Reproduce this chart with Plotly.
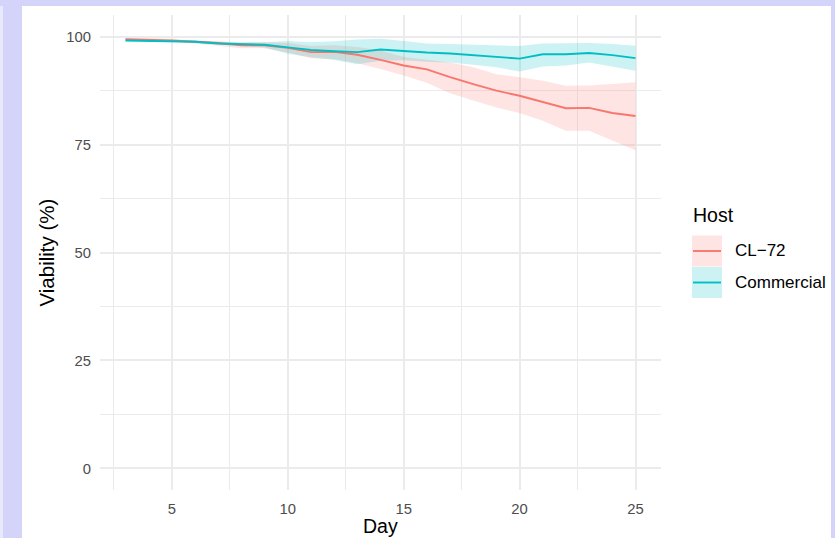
import plotly.graph_objects as go

# ---------------- data ----------------
days = list(range(3, 26))

cl72_mean = [99.4, 99.3, 99.1, 98.8, 98.5, 98.0, 98.0, 97.4, 96.4, 96.5, 95.8, 94.6,
             93.3, 92.4, 90.6, 89.0, 87.5, 86.3, 84.9, 83.4, 83.5, 82.3, 81.6]
cl72_lower = [99.2, 99.0, 98.8, 98.4, 97.9, 97.3, 97.3, 96.3, 95.0, 94.8, 93.8, 92.5,
              91.0, 89.3, 86.9, 85.2, 83.6, 82.3, 80.5, 78.2, 78.2, 75.9, 73.7]
cl72_upper = [99.6, 99.6, 99.4, 99.2, 99.0, 98.7, 98.7, 98.5, 97.8, 98.0, 97.6, 96.8,
              95.3, 94.6, 94.0, 92.9, 91.3, 90.6, 89.8, 88.6, 88.7, 89.0, 89.4]

com_mean = [99.1, 99.0, 99.0, 98.8, 98.4, 98.2, 98.1, 97.5, 96.9, 96.6, 96.4, 97.0,
            96.6, 96.3, 96.1, 95.7, 95.3, 94.9, 95.9, 95.9, 96.2, 95.7, 95.0]
com_lower = [98.9, 98.8, 98.8, 98.5, 98.1, 97.8, 97.5, 96.0, 95.2, 94.6, 93.6, 94.4,
             94.5, 94.2, 94.0, 93.5, 92.9, 91.9, 93.1, 93.3, 94.0, 93.1, 92.1]
com_upper = [99.3, 99.2, 99.2, 99.1, 98.8, 98.6, 98.7, 99.0, 98.7, 98.9, 99.3, 99.5,
             99.0, 98.4, 98.3, 98.1, 97.9, 97.8, 98.4, 98.4, 98.5, 98.3, 97.9]

series_names = ["CL\u221272", "Commercial"]
x_ticks = [5, 10, 15, 20, 25]
y_ticks = [0, 25, 50, 75, 100]

# ---------------- style ----------------
RED = "#F8766D"
TEAL = "#00BFC4"
RED_FILL = "rgba(248,118,109,0.2)"
TEAL_FILL = "rgba(0,191,196,0.2)"
LAV = "#D4D4FA"
FONT = "Liberation Sans, Arial, sans-serif"
GRID = "#EBEBEB"

W, H = 835, 538
L, R, T, B = 100, 661, 15, 490  # plot area in px


def px_x(px):
    return (px - L) / (R - L)


def px_y(py):
    return (B - py) / (B - T)


fig = go.Figure()

# ribbons
for lo, up, fc in [(cl72_lower, cl72_upper, RED_FILL), (com_lower, com_upper, TEAL_FILL)]:
    fig.add_trace(go.Scatter(
        x=days + days[::-1], y=up + lo[::-1], fill="toself", fillcolor=fc,
        line=dict(width=0), mode="lines", showlegend=False, hoverinfo="skip"))

# lines
for m, c, n in [(cl72_mean, RED, series_names[0]), (com_mean, TEAL, series_names[1])]:
    fig.add_trace(go.Scatter(x=days, y=m, mode="lines", name=n,
                             line=dict(color=c, width=1.9), showlegend=False))

shapes = [
    # white page area over lavender
    dict(type="rect", xref="paper", yref="paper", layer="below",
         x0=px_x(22), x1=px_x(831), y0=px_y(H), y1=px_y(6),
         fillcolor="white", line=dict(width=0)),
    dict(type="rect", xref="paper", yref="paper", layer="below",
         x0=px_x(0), x1=px_x(3), y0=px_y(H), y1=px_y(6),
         fillcolor="#E9E9FC", line=dict(width=0)),
]

annotations = [
    dict(text="Day", x=px_x(380.5), y=px_y(526), xref="paper", yref="paper",
         showarrow=False, xanchor="center", yanchor="middle",
         font=dict(family=FONT, size=19.5, color="black")),
    dict(text="Viability (%)", x=px_x(46), y=px_y(252.5), xref="paper", yref="paper",
         showarrow=False, xanchor="center", yanchor="middle", textangle=-90,
         font=dict(family=FONT, size=20.5, color="black")),
    dict(text="Host", x=px_x(691), y=px_y(215), xref="paper", yref="paper",
         showarrow=False, xanchor="left", yanchor="middle",
         font=dict(family=FONT, size=19.5, color="black")),
]

# manual legend
key_rows = [(235.5, 266.5, RED_FILL, RED, series_names[0]),
            (267, 298, TEAL_FILL, TEAL, series_names[1])]
for y0, y1, fc, lc, name in key_rows:
    shapes.append(dict(type="rect", xref="paper", yref="paper",
                       x0=px_x(692), x1=px_x(722), y0=px_y(y1), y1=px_y(y0),
                       fillcolor=fc, line=dict(width=0)))
    ym = (y0 + y1) / 2
    shapes.append(dict(type="line", xref="paper", yref="paper",
                       x0=px_x(693), x1=px_x(721), y0=px_y(ym), y1=px_y(ym),
                       line=dict(color=lc, width=1.9)))
    annotations.append(dict(text=name, x=px_x(733), y=px_y(ym), xref="paper", yref="paper",
                            showarrow=False, xanchor="left", yanchor="middle",
                            font=dict(family=FONT, size=17, color="black")))

fig.update_layout(
    width=W, height=H,
    margin=dict(l=L, r=W - R, t=T, b=H - B, pad=0),
    paper_bgcolor=LAV, plot_bgcolor="white",
    shapes=shapes, annotations=annotations, showlegend=False,
    font=dict(family=FONT),
)

fig.update_xaxes(
    range=[1.9, 26.1], tickvals=x_ticks, ticktext=[str(v) for v in x_ticks],
    showgrid=True, gridcolor=GRID, gridwidth=1.8, zeroline=False, showline=False,
    ticks="", ticklabelstandoff=8,
    tickfont=dict(family=FONT, size=14.8, color="#4D4D4D"),
    minor=dict(tick0=2.5, dtick=5, showgrid=True, gridcolor=GRID, gridwidth=0.9),
)
fig.update_yaxes(
    range=[-5, 105], tickvals=y_ticks, ticktext=[str(v) for v in y_ticks],
    showgrid=True, gridcolor=GRID, gridwidth=1.8, zeroline=False, showline=False,
    ticks="", ticklabelstandoff=8,
    tickfont=dict(family=FONT, size=14.8, color="#4D4D4D"),
    minor=dict(tick0=12.5, dtick=25, showgrid=True, gridcolor=GRID, gridwidth=0.9),
)

fig.write_html(
    "out.html",
    config={"displayModeBar": False},
    post_script="document.body.style.margin='0px';document.body.style.overflow='hidden';",
)
